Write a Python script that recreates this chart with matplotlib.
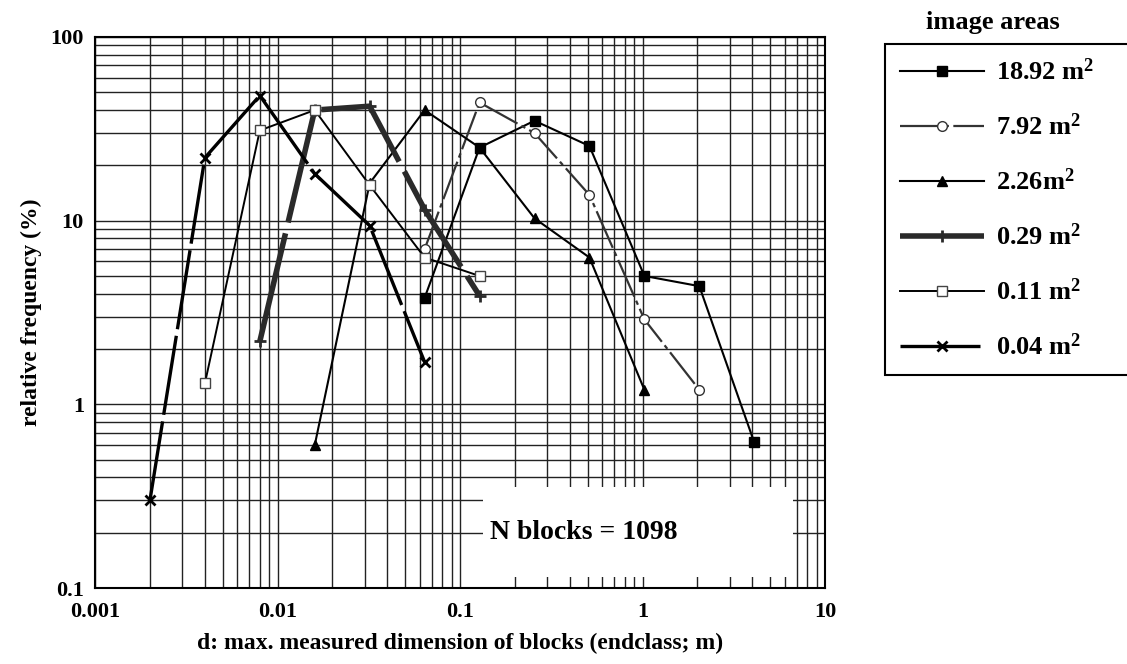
import matplotlib.pyplot as plt
from matplotlib.patches import Rectangle
from matplotlib.ticker import FixedLocator, FixedFormatter, LogLocator, NullFormatter

plt.rcParams["font.family"] = ["Liberation Serif", "DejaVu Serif"]
plt.rcParams["font.weight"] = "bold"
plt.rcParams["mathtext.fontset"] = "custom"
plt.rcParams["mathtext.rm"] = "Liberation Serif:bold"
plt.rcParams["mathtext.it"] = "Liberation Serif:bold"
plt.rcParams["mathtext.bf"] = "Liberation Serif:bold"

# endclass sizes (m) and relative frequencies (%) per image area
d_18_92 = [0.064, 0.128, 0.256, 0.512, 1.024, 2.048, 4.096]
f_18_92 = [3.8, 25, 35, 25.5, 5.0, 4.4, 0.62]

d_7_92 = [0.064, 0.128, 0.256, 0.512, 1.024, 2.048]
f_7_92 = [7.0, 44, 30, 13.8, 2.9, 1.2]

d_2_26 = [0.016, 0.032, 0.064, 0.128, 0.256, 0.512, 1.024]
f_2_26 = [0.6, 16, 40, 25, 10.3, 6.3, 1.2]

d_0_29 = [0.008, 0.016, 0.032, 0.064, 0.128]
f_0_29 = [2.2, 40, 42, 11.5, 3.9]

d_0_11 = [0.004, 0.008, 0.016, 0.032, 0.064, 0.128]
f_0_11 = [1.3, 31, 40, 15.6, 6.3, 5.0]

d_0_04 = [0.002, 0.004, 0.008, 0.016, 0.032, 0.064]
f_0_04 = [0.3, 22, 48, 18, 9.4, 1.7]

labels = [r"18.92 m$^{2}$", r"7.92 m$^{2}$", r"2.26m$^{2}$",
          r"0.29 m$^{2}$", r"0.11 m$^{2}$", r"0.04 m$^{2}$"]
n_blocks = 1098

fig = plt.figure(figsize=(11.27, 6.64), dpi=100)
ax = fig.add_axes([95 / 1127, 1 - 588 / 664, 730 / 1127, 551 / 664])

ax.plot(d_18_92, f_18_92, color="black", lw=1.5, marker="s", ms=7,
        mfc="black", label=labels[0])
ax.plot(d_7_92, f_7_92, color="#333333", lw=1.6, ls=(0, (18, 2, 2, 2)),
        marker="o", ms=7, mfc="white", mec="#333333", label=labels[1])
ax.plot(d_2_26, f_2_26, color="black", lw=1.5, marker="^", ms=7,
        mfc="black", label=labels[2])
ax.plot(d_0_29, f_0_29, color="#2a2a2a", lw=4.0, ls=(0, (20, 2)),
        marker="+", ms=9, mew=2, label=labels[3])
ax.plot(d_0_11, f_0_11, color="black", lw=1.4, marker="s", ms=7,
        mfc="white", mec="#444444", label=labels[4])
ax.plot(d_0_04, f_0_04, color="black", lw=2.4, ls=(0, (24, 2)),
        marker="x", ms=7, mew=2, label=labels[5])

ax.set_xscale("log")
ax.set_yscale("log")
ax.set_xlim(0.001, 10)
ax.set_ylim(0.1, 100)

ax.xaxis.set_major_locator(FixedLocator([0.001, 0.01, 0.1, 1, 10]))
ax.xaxis.set_major_formatter(FixedFormatter(["0.001", "0.01", "0.1", "1", "10"]))
ax.yaxis.set_major_locator(FixedLocator([0.1, 1, 10, 100]))
ax.yaxis.set_major_formatter(FixedFormatter(["0.1", "1", "10", "100"]))
for axis in (ax.xaxis, ax.yaxis):
    axis.set_minor_locator(LogLocator(base=10, subs=range(2, 10), numticks=20))
    axis.set_minor_formatter(NullFormatter())

ax.grid(True, which="both", color="#222222", lw=1.0)
ax.set_axisbelow(True)
ax.tick_params(which="both", direction="in", length=0, labelsize=16)
ax.tick_params(axis="x", pad=10)
ax.tick_params(axis="y", pad=8)
for lab in ax.get_xticklabels() + ax.get_yticklabels():
    lab.set_fontweight("bold")
for sp in ax.spines.values():
    sp.set_linewidth(1.5)

ax.set_xlabel("d: max. measured dimension of blocks (endclass; m)",
              fontsize=17, fontweight="bold", labelpad=8)
ax.set_ylabel("relative frequency (%)", fontsize=17, fontweight="bold",
              labelpad=6)

# white panel for the sample size note
ax.add_patch(Rectangle((0.532, 0.02), 0.424, 0.163, transform=ax.transAxes,
                       facecolor="white", edgecolor="none", zorder=1.5))
ax.text(0.541, 0.10, "N blocks = {}".format(n_blocks), transform=ax.transAxes,
        fontsize=20, fontweight="bold", va="center", ha="left", zorder=3)

fig.text(993 / 1127, 1 - 22 / 664, "image areas", fontsize=19,
         fontweight="bold", ha="center", va="center")
leg = fig.legend(loc="upper left",
                 bbox_to_anchor=(885 / 1127, 1 - 368 / 664, 260 / 1127, 324 / 664),
                 mode="expand", borderaxespad=0, fancybox=False,
                 edgecolor="black", framealpha=1, fontsize=19,
                 handlelength=3.2, handletextpad=0.45, labelspacing=1.08,
                 borderpad=0.55)
leg.get_frame().set_linewidth(1.5)

fig.savefig("out.png", dpi=100)
